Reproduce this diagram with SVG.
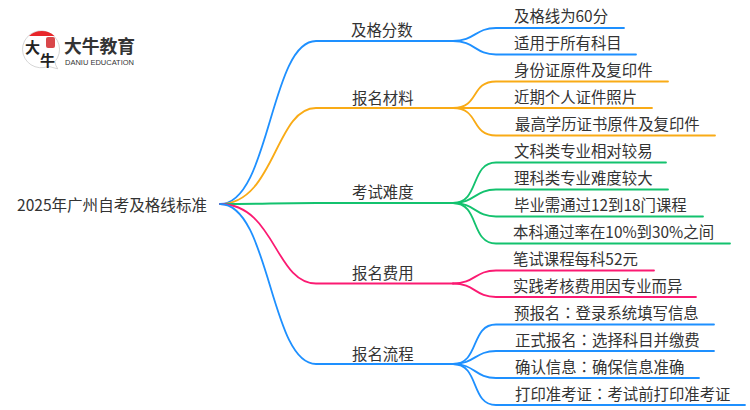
<svg xmlns="http://www.w3.org/2000/svg" width="750" height="410" viewBox="0 0 750 410">
<style>
text{font-family:"Noto Sans CJK SC","Noto Sans",sans-serif;font-size:15.4px;fill:#333}
.c{font-family:"Noto Sans CJK TC",sans-serif}
path{fill:none;stroke-width:1.8;stroke-linecap:round}
.b{stroke:#1e90ff}.o{stroke:#f9ab16}.g{stroke:#13c26e}.p{stroke:#fb1a72}
</style>
<rect width="750" height="410" fill="#fff"/>
<g id="connectors">
<path class="b" d="M220 204C270 204 270 41 316 41H453"/>
<path class="o" d="M220 204C275 204 275 108 316 108H453"/>
<path class="g" d="M220 204C270 204 270 203 316 203H453"/>
<path class="p" d="M220 204C275 204 275 283.500 316 283.500H453"/>
<path class="b" d="M220 204C270 204 270 364 316 364H453"/>
<path class="b" d="M453 41C475 41 475 28 496 28H624"/>
<path class="b" d="M453 41C475 41 475 54.500 496 54.500H636"/>
<path class="o" d="M453 108C480 108 470 81.500 496 81.500H668"/>
<path class="o" d="M453 108H652"/>
<path class="o" d="M453 108C480 108 470 135.500 496 135.500H715"/>
<path class="g" d="M453 203C480 203 470 162.500 496 162.500H666"/>
<path class="g" d="M453 203C475 203 475 189.500 496 189.500H668"/>
<path class="g" d="M453 203C475 203 475 216.500 496 216.500H703"/>
<path class="g" d="M453 203C480 203 470 243.500 496 243.500H730"/>
<path class="p" d="M453 283.500C475 283.500 475 270.500 496 270.500H654"/>
<path class="p" d="M453 283.500C475 283.500 475 297 496 297H696"/>
<path class="b" d="M453 364C480 364 470 324.500 496 324.500H714"/>
<path class="b" d="M453 364C475 364 475 351 496 351H714"/>
<path class="b" d="M453 364C475 364 475 378 496 378H699"/>
<path class="b" d="M453 364C480 364 470 405 496 405H745"/>
</g>
<g id="logo">
<path d="M48 66.500A18.500 18.500 0 1 1 55 61.500Q55 65 57.500 68.500Z" style="fill:#fff;stroke:#c4c4c4;stroke-width:.7"/>
<path d="M29 36A18.500 18.500 0 0 1 54.500 36Z" style="fill:#e8262a;stroke:none"/>
<rect x="46" y="37" width="9" height="11" rx="2" fill="#d9474a"/>
<text x="25" y="53" style="font-size:15px;font-weight:700;fill:#222">大</text>
<text x="40" y="66" style="font-size:15px;font-weight:700;fill:#222">牛</text>
<text x="64" y="53" style="font-size:17.800px;font-weight:700;fill:#333">大牛教育</text>
<text x="65" y="65" style="font-size:7.500px;font-family:'Liberation Sans',sans-serif;fill:#333">DANIU EDUCATION</text>
</g>
<g id="root"><text x="17" y="211" style="font-size:15.550px">2025年广州自考及格线标准</text></g>
<g id="n1"><text x="351" y="36">及格分数</text></g>
<g id="n1a"><text x="514" y="22">及格线为60分</text></g>
<g id="n1b"><text x="514" y="49">适用于所有科目</text></g>
<g id="n2"><text x="352" y="104">报名材料</text></g>
<g id="n2a"><text x="514" y="76">身份证原件及复印件</text></g>
<g id="n2b"><text x="514" y="103">近期个人证件照片</text></g>
<g id="n2c"><text x="515" y="130">最高学历证书原件及复印件</text></g>
<g id="n3"><text x="352" y="198">考试难度</text></g>
<g id="n3a"><text x="514" y="157">文科类专业相对较易</text></g>
<g id="n3b"><text x="514" y="184">理科类专业难度较大</text></g>
<g id="n3c"><text x="514" y="211">毕业需通过12到18门课程</text></g>
<g id="n3d"><text x="513" y="238">本科通过率在10%到30%之间</text></g>
<g id="n4"><text x="352" y="279">报名费用</text></g>
<g id="n4a"><text x="513" y="265">笔试课程每科52元</text></g>
<g id="n4b"><text x="513" y="292">实践考核费用因专业而异</text></g>
<g id="n5"><text x="352" y="360">报名流程</text></g>
<g id="n5a"><text x="514" y="319">预报名<tspan class="c">：</tspan>登录系统填写信息</text></g>
<g id="n5b"><text x="515" y="346">正式报名<tspan class="c">：</tspan>选择科目并缴费</text></g>
<g id="n5c"><text x="515" y="373">确认信息<tspan class="c">：</tspan>确保信息准确</text></g>
<g id="n5d"><text x="515" y="400">打印准考证<tspan class="c">：</tspan>考试前打印准考证</text></g>
</svg>
